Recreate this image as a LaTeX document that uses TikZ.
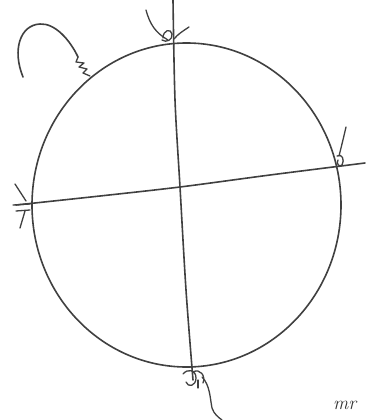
\documentclass[tikz,border=0pt]{standalone}
\usepackage{tikz}

\begin{document}
\begin{tikzpicture}[
  x=1pt, y=-1pt,
  ink/.style={draw=black!75, line width=1.6pt, line cap=round, line join=round},
  knot/.style={draw=black!75, line width=1.3pt, line cap=round, line join=round},
  sign/.style={font=\fontsize{19}{19}\selectfont\itshape, text=black!80, inner sep=0pt, anchor=west}
]
\useasboundingbox[fill=white] (0,0) rectangle (365,420);

% circle
\draw[ink] (186.5,205) ellipse [x radius=154.5, y radius=162];

% the two strings
\draw[ink] plot[smooth] coordinates {(173,0) (175,100) (180,187) (186,290) (193,380)};
\draw[ink] plot[smooth] coordinates {(16,205) (100,196) (180,187) (270,175) (365,163)};

% hook, top left
\draw[ink] (23,77) .. controls (12,50) and (20,25) .. (40,24)
  .. controls (55,23) and (70,40) .. (78,57);
\draw[knot] (78,57) -- (76,62) -- (84,63) -- (79,67) -- (87,69) -- (83,73) -- (90,76);

% top knot
\draw[knot] (146,10) .. controls (150,25) and (156,33) .. (168,40);
\draw[knot] (163,38) .. controls (163,30) and (171,28) .. (172,34) .. controls (173,40) and (166,43) .. (162,40);
\draw[knot] (189,27) .. controls (183,31) and (178,34) .. (174,39);

% right knot
\draw[knot] (346,127) .. controls (343,140) and (341,148) .. (339,156);
\draw[knot] (337,156) .. controls (342,153) and (345,160) .. (342,165) .. controls (339,168) and (336,163) .. (338,160);

% left knot
\draw[knot] (15,184) -- (26,201);
\draw[knot] (13,205) -- (30,204);
\draw[knot] (16,211) -- (30,210);
\draw[knot] (20,228) -- (25,211);

% bottom knot
\draw[knot] (183,374) .. controls (188,368) and (196,370) .. (196,378) .. controls (196,386) and (188,388) .. (186,382);
\draw[knot] (193,372) .. controls (200,368) and (206,376) .. (203,383);
\draw[knot] (198,380) -- (198,388);
\draw[knot] (202,377) .. controls (210,385) and (210,398) .. (212,408) .. controls (214,414) and (218,417) .. (222,420);

% signature
\node[sign] (signature) at (333,405) {mr};
\end{tikzpicture}
\end{document}
